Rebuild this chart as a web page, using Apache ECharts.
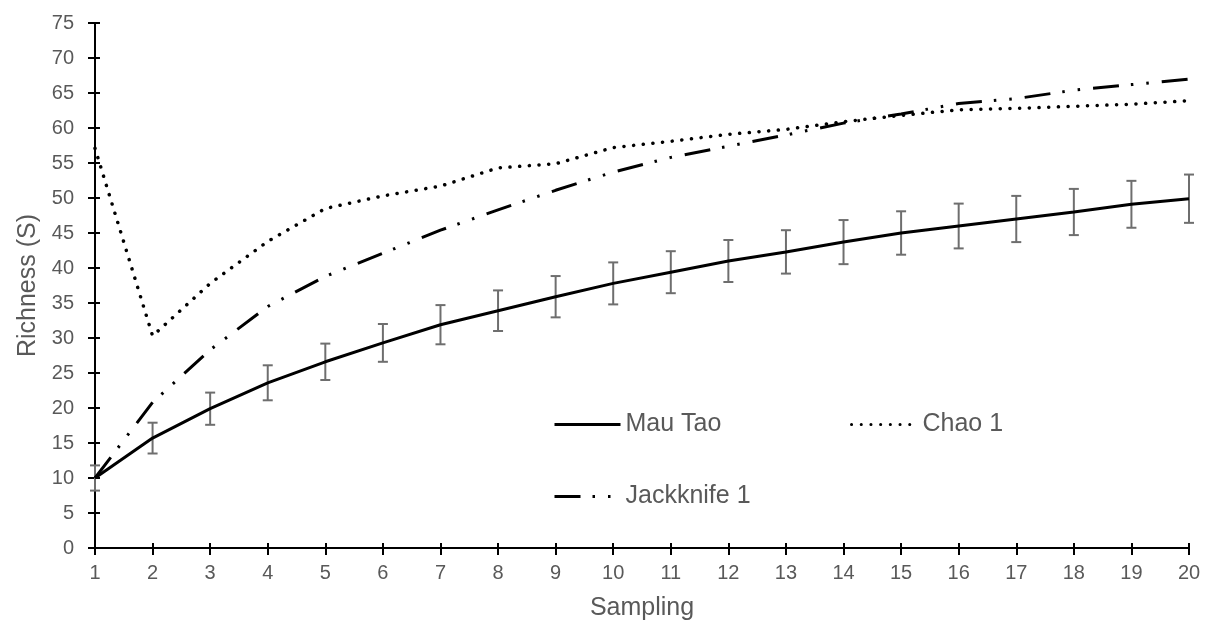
<!DOCTYPE html>
<html>
<head>
<meta charset="utf-8">
<script src="https://cdn.jsdelivr.net/npm/echarts@6/dist/echarts.min.js"></script>
<style>
  html, body { margin: 0; padding: 0; background: #fff; }
  #main { width: 1208px; height: 624px; }
</style>
</head>
<body>
<div id="main"></div>
<script>
// 数据
const sampling = ['1','2','3','4','5','6','7','8','9','10','11','12','13','14','15','16','17','18','19','20'];
const mauTao = [10, 15.7, 19.9, 23.6, 26.6, 29.3, 31.9, 33.9, 35.9, 37.8, 39.4, 41.0, 42.3, 43.7, 45.0, 46.0, 47.0, 48.0, 49.1, 49.9];
const mauTaoErr = [1.8, 2.2, 2.3, 2.5, 2.6, 2.7, 2.8, 2.9, 2.95, 3.0, 3.0, 3.0, 3.1, 3.15, 3.1, 3.2, 3.3, 3.3, 3.35, 3.45];
const chao1 = [57.1, 30.3, 37.8, 43.8, 48.5, 50.3, 51.7, 54.3, 54.9, 57.2, 58.1, 59.1, 59.8, 60.9, 61.8, 62.6, 62.8, 63.1, 63.4, 63.9];
const jackknife1 = [10, 20.8, 28.3, 34.5, 38.8, 42.1, 45.4, 48.3, 51.1, 53.7, 55.8, 57.4, 59.0, 60.7, 62.0, 63.5, 64.2, 65.4, 66.2, 67.0];

const textColor = '#595959';
const fontFamily = '"Liberation Sans", Arial, sans-serif';

let errData = mauTao.map(function (v, i) {
  return [i, v - mauTaoErr[i], v + mauTaoErr[i]];
});

// 图例（每项单独定位）
function legendAt(name, left, top) {
  return {
    left: left,
    top: top,
    itemWidth: 66,
    itemHeight: 24,
    itemStyle: { opacity: 0 },
    lineStyle: { width: 3 },
    textStyle: { color: textColor, fontSize: 25, fontFamily: fontFamily },
    data: [name],
  };
}

let myChart = echarts.init(document.getElementById('main'));
myChart.setOption({
  animation: false,
  grid: { left: 95, right: 19, top: 23, bottom: 76, containLabel: false, outerBoundsMode: 'none' },
  legend: [
    legendAt('Mau Tao', 548, 407),
    legendAt('Chao 1', 845, 407),
    legendAt('Jackknife 1', 548, 479),
  ],
  xAxis: [
    {
      type: 'category',
      data: sampling,
      boundaryGap: false,
      name: 'Sampling',
      nameLocation: 'middle',
      nameGap: 48,
      nameTextStyle: { color: textColor, fontSize: 25, fontFamily: fontFamily },
      axisLine: { lineStyle: { color: '#000', width: 2 } },
      axisTick: { length: 7, lineStyle: { color: '#000', width: 2 } },
      axisLabel: { color: textColor, fontSize: 20, margin: 15, fontFamily: fontFamily },
      splitLine: { show: false },
    },
    {
      type: 'category',
      data: sampling,
      boundaryGap: false,
      position: 'bottom',
      axisLine: { show: false },
      axisTick: { inside: true, length: 5, lineStyle: { color: '#000', width: 2 } },
      axisLabel: { show: false },
    },
  ],
  yAxis: [
    {
      type: 'value',
      min: 0,
      max: 75,
      interval: 5,
      name: 'Richness (S)',
      nameLocation: 'middle',
      nameGap: 54,
      nameTextStyle: { color: textColor, fontSize: 25, fontFamily: fontFamily },
      axisLine: { show: true, lineStyle: { color: '#000', width: 2 } },
      axisTick: { show: true, length: 7, lineStyle: { color: '#000', width: 2 } },
      axisLabel: { color: textColor, fontSize: 20, margin: 21, fontFamily: fontFamily },
      splitLine: { show: false },
    },
    {
      type: 'value',
      min: 0,
      max: 75,
      interval: 5,
      position: 'left',
      axisLine: { show: false },
      axisTick: { show: true, inside: true, length: 5, lineStyle: { color: '#000', width: 2 } },
      axisLabel: { show: false },
      splitLine: { show: false },
    },
  ],
  series: [
    {
      name: 'Mau Tao',
      type: 'line',
      data: mauTao,
      symbol: 'none',
      color: '#000',
      lineStyle: { color: '#000', width: 3 },
      z: 4,
    },
    {
      name: 'Chao 1',
      type: 'line',
      data: chao1,
      symbol: 'none',
      color: '#000',
      lineStyle: { color: '#000', width: 3.5, type: [0.1, 9.6], cap: 'round' },
      z: 3,
    },
    {
      name: 'Jackknife 1',
      type: 'line',
      data: jackknife1,
      symbol: 'none',
      color: '#000',
      lineStyle: { color: '#000', width: 3, type: [26, 12, 2.5, 13, 2.5, 13] },
      z: 3,
    },
    {
      name: 'err',
      type: 'custom',
      data: errData,
      z: 2,
      renderItem: function (params, api) {
        let x = api.value(0);
        let lo = api.coord([x, api.value(1)]);
        let hi = api.coord([x, api.value(2)]);
        let w = 5;
        let st = { stroke: '#6e6e6e', lineWidth: 2 };
        return {
          type: 'group',
          children: [
            { type: 'line', shape: { x1: lo[0], y1: lo[1], x2: hi[0], y2: hi[1] }, style: st },
            { type: 'line', shape: { x1: lo[0] - w, y1: lo[1], x2: lo[0] + w, y2: lo[1] }, style: st },
            { type: 'line', shape: { x1: hi[0] - w, y1: hi[1], x2: hi[0] + w, y2: hi[1] }, style: st },
          ],
        };
      },
    },
  ],
});
</script>
</body>
</html>
